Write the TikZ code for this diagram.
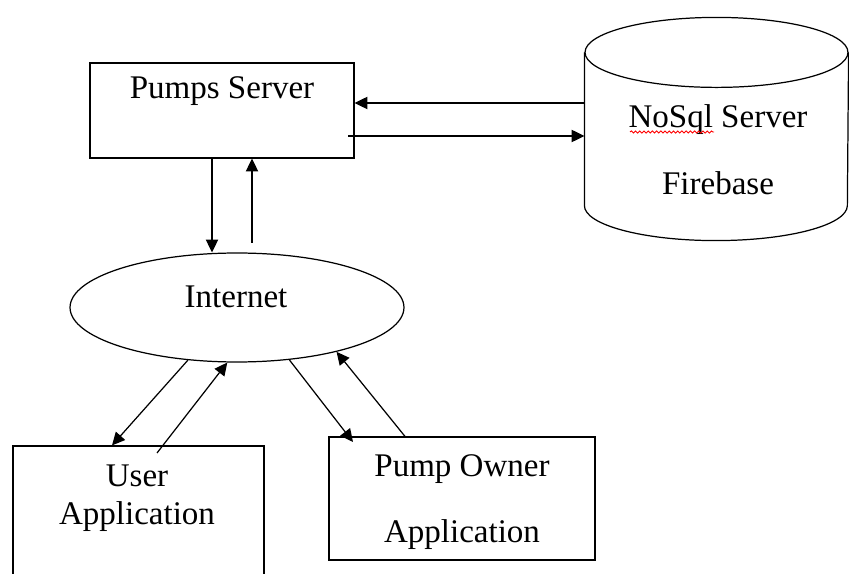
\documentclass[tikz,border=0pt]{standalone}
\usepackage{fontspec}
\setmainfont{Liberation Serif}
\usetikzlibrary{arrows.meta,shapes.geometric,decorations.pathmorphing}
\tikzset{
	arr/.style={-{Triangle[length=7.3pt,width=7pt]}},
	blk/.style={draw,rectangle,inner sep=0pt},
	txt/.style={inner sep=0pt,align=center,font=\fontsize{18.8pt}{21.6pt}\selectfont},
	wide/.style={font=\fontsize{18.8pt}{38pt}\selectfont},
	squiggle/.style={red,line width=0.5pt,decorate,decoration={snake,amplitude=0.6pt,segment length=2.4pt}}
}
\begin{document}
\begin{tikzpicture}[x=0.02cm,y=-0.02cm,line width=0.7pt]
				\useasboundingbox (0,0) rectangle (849,574);
				\clip (0,0) rectangle (849,574);
				\node[blk,minimum width=5.28cm,minimum height=1.9cm] (srv) at (222,110.5) {};
				\node[draw,ellipse,inner sep=0pt,minimum width=6.68cm,minimum height=2.18cm] (net) at (237,307.5) {};
				\node[inner sep=0pt,minimum width=5.26cm,minimum height=3.04cm] (db) at (716.5,129) {};
				\node[blk,minimum width=5.02cm,minimum height=3.48cm] (user) at (138.5,533) {};
				\node[blk,minimum width=5.32cm,minimum height=2.46cm] (pump) at (462,498.5) {};
				\draw (db.north west) -- (db.south west) arc[start angle=180,end angle=360,x radius=2.63cm,y radius=0.7cm] -- (db.north east);
				\draw (db.north) ellipse[x radius=2.63cm,y radius=0.7cm];
				\path 
				(0,103) coordinate (ds) (348,136) coordinate (sd) (252,243) coordinate (nu) (157,453) coordinate (ua) (353,442) coordinate (pa);
				\draw[arr] (db.west |- ds) -- (srv.east |- ds);
				\draw[arr] (sd) -- (db.west |- sd);
				\draw[arr] (srv.south -| 212,0) -- (net.north -| 212,0);
				\draw[arr] (nu) -- (srv.south -| nu);
				\draw[arr] (net.227) -- (user.north -| 112,0);
				\draw[arr] (ua) -- (net.260);
				\draw[arr] (net.315) -- (pa);
				\draw[arr] (pump.north -| 405,0) -- (net.336);
				\node[txt] (srvtxt) at (222,91) {Pumps Server};
				\node[txt] (nettxt) at (236,297) {Internet};
				\node[txt,wide] (dbtxt) at (718,150) {NoSql Server\\Firebase};
				\node[txt] (usertxt) at (137,498) {User\\Application};
				\node[txt,wide] (pumptxt) at (462,502) {Pump Owner\\Application};
				\draw[squiggle] (630,132) -- (714,132);
\end{tikzpicture}
\end{document}
